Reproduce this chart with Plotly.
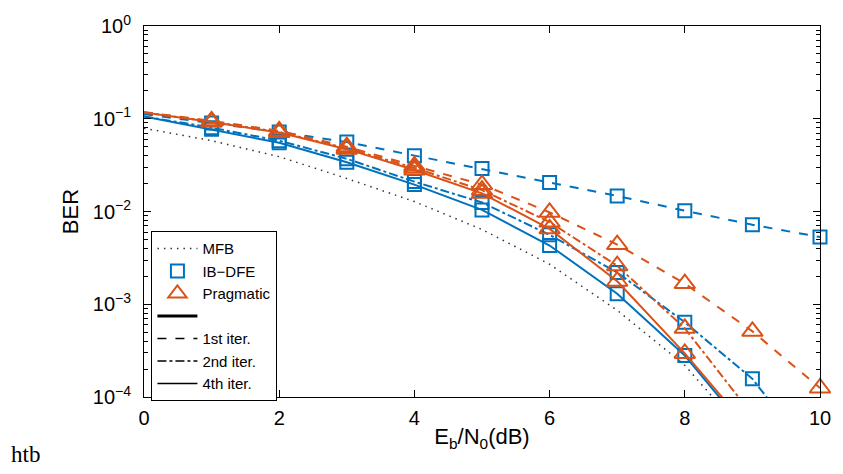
import numpy as np
import plotly.graph_objects as go

# Eb/N0 grid (dB)
snr_db = [0, 1, 2, 3, 4, 5, 6, 7, 8, 9, 10]

# Matched-filter bound
ber_mfb = [0.079, 0.058, 0.039, 0.0227, 0.0128, 0.0064, 0.0027, 0.00086, 0.00022, 3.2e-5, None]

# IB-DFE receiver, iterations 1, 2, 4
ber_ibdfe_it1 = [0.112, 0.090, 0.072, 0.056, 0.040, 0.029, 0.0205, 0.0147, 0.0102, 0.0072, 0.0053]
ber_ibdfe_it2 = [0.106, 0.080, 0.058, 0.037, 0.021, 0.0125, 0.0056, 0.0022, 0.00064, 0.000157, 1.8e-5]
ber_ibdfe_it4 = [0.106, 0.077, 0.055, 0.034, 0.0195, 0.0104, 0.0043, 0.0013, 0.00028, 3.7e-5, None]

# Pragmatic receiver, iterations 1, 2, 4
ber_prag_it1 = [0.118, 0.095, 0.074, 0.050, 0.031, 0.0195, 0.0098, 0.0044, 0.00167, 0.00051, 0.000125]
ber_prag_it2 = [0.117, 0.093, 0.072, 0.048, 0.0295, 0.017, 0.0077, 0.0026, 0.00055, 6.4e-5, None]
ber_prag_it4 = [0.117, 0.092, 0.071, 0.047, 0.028, 0.0157, 0.0065, 0.00177, 0.000295, 4.1e-5, None]

y_ticks = [1e-4, 1e-3, 1e-2, 1e-1, 1]
y_tick_text = ["10<sup>−4</sup>", "10<sup>−3</sup>", "10<sup>−2</sup>", "10<sup>−1</sup>", "10<sup>0</sup>"]
x_ticks = [0, 2, 4, 6, 8, 10]

BLUE = "#0072BD"
ORANGE = "#D95319"
FONT = "Liberation Sans, Arial, sans-serif"
YMIN = 1e-4
MFB_DASH = "1.5px,5px"

# minor ticks at 2..9 within each decade
y_minor = [m * 10.0 ** e for e in range(-4, 0) for m in range(2, 10)]

fig = go.Figure()


def add_curve(y, color, dash, symbol, msize):
    """Line over the whole SNR grid, markers at the simulated points (x >= 1)."""
    x = np.array(snr_db, dtype=float)
    yv = np.array([np.nan if v is None else v for v in y], dtype=float)
    fig.add_trace(go.Scatter(x=x, y=yv, mode="lines", showlegend=False,
                             line=dict(color=color, width=2, dash=dash)))
    keep = (x >= 1) & (yv >= YMIN)
    fig.add_trace(go.Scatter(x=x[keep], y=yv[keep], mode="markers", showlegend=False,
                             cliponaxis=False,
                             marker=dict(symbol=symbol, size=msize, color=color,
                                         line=dict(color=color, width=2))))


# MFB
fig.add_trace(go.Scatter(x=snr_db, y=ber_mfb, mode="lines", showlegend=False,
                         line=dict(color="#333333", width=1.5, dash=MFB_DASH)))

add_curve(ber_ibdfe_it1, BLUE, "dash", "square-open", 13)
add_curve(ber_ibdfe_it2, BLUE, "dashdot", "square-open", 13)
add_curve(ber_ibdfe_it4, BLUE, "solid", "square-open", 13)
add_curve(ber_prag_it1, ORANGE, "dash", "triangle-up-open", 18)
add_curve(ber_prag_it2, ORANGE, "dashdot", "triangle-up-open", 18)
add_curve(ber_prag_it4, ORANGE, "solid", "triangle-up-open", 18)

# Legend entries (no data)
nan = [None]
fig.add_trace(go.Scatter(x=nan, y=nan, mode="lines", name="MFB",
                         line=dict(color="#333333", width=1.5, dash=MFB_DASH)))
fig.add_trace(go.Scatter(x=nan, y=nan, mode="markers", name="IB−DFE",
                         marker=dict(symbol="square-open", size=13, color=BLUE,
                                     line=dict(color=BLUE, width=2))))
fig.add_trace(go.Scatter(x=nan, y=nan, mode="markers", name="Pragmatic",
                         marker=dict(symbol="triangle-up-open", size=17, color=ORANGE,
                                     line=dict(color=ORANGE, width=2))))
fig.add_trace(go.Scatter(x=nan, y=nan, mode="lines", name=" ",
                         line=dict(color="black", width=3)))
fig.add_trace(go.Scatter(x=nan, y=nan, mode="lines", name="1st iter.",
                         line=dict(color="black", width=1.5, dash="dash")))
fig.add_trace(go.Scatter(x=nan, y=nan, mode="lines", name="2nd iter.",
                         line=dict(color="black", width=1.5, dash="dashdot")))
fig.add_trace(go.Scatter(x=nan, y=nan, mode="lines", name="4th iter.",
                         line=dict(color="black", width=1.5, dash="solid")))

axis_common = dict(
    showgrid=False, zeroline=False, showline=True, linecolor="black", linewidth=1,
    mirror="ticks", ticks="inside", tickcolor="black", ticklen=7, tickwidth=1,
    tickfont=dict(family=FONT, size=20, color="black"),
)

fig.update_layout(
    width=843, height=474,
    margin=dict(l=144, r=16, t=23, b=77),
    paper_bgcolor="white", plot_bgcolor="white",
    font=dict(family=FONT, color="black"),
    xaxis=dict(range=[0, 10], tickvals=x_ticks, ticklabelstandoff=3,
               title=dict(text="E<sub>b</sub>/N<sub>0</sub>(dB)", standoff=0,
                          font=dict(family=FONT, size=22, color="black")),
               **axis_common),
    yaxis=dict(type="log", range=[-4, 0], tickvals=y_ticks, ticktext=y_tick_text,
               ticklabelstandoff=8,
               minor=dict(tickvals=y_minor, ticks="inside", ticklen=4,
                          tickcolor="black", showgrid=False),
               title=dict(text="BER", standoff=8,
                          font=dict(family=FONT, size=22, color="black")),
               **axis_common),
    legend=dict(x=0.011, y=0.447, xanchor="left", yanchor="top",
                bgcolor="white", bordercolor="black", borderwidth=1,
                font=dict(family=FONT, size=15, color="black"),
                tracegroupgap=0, itemwidth=40),
    annotations=[dict(text="htb", xref="paper", yref="paper",
                      x=-0.2, y=-0.154, xanchor="left", yanchor="middle",
                      showarrow=False,
                      font=dict(family="Liberation Serif, Times New Roman, serif",
                                size=23, color="black"))],
)

fig.write_html("out.html")
